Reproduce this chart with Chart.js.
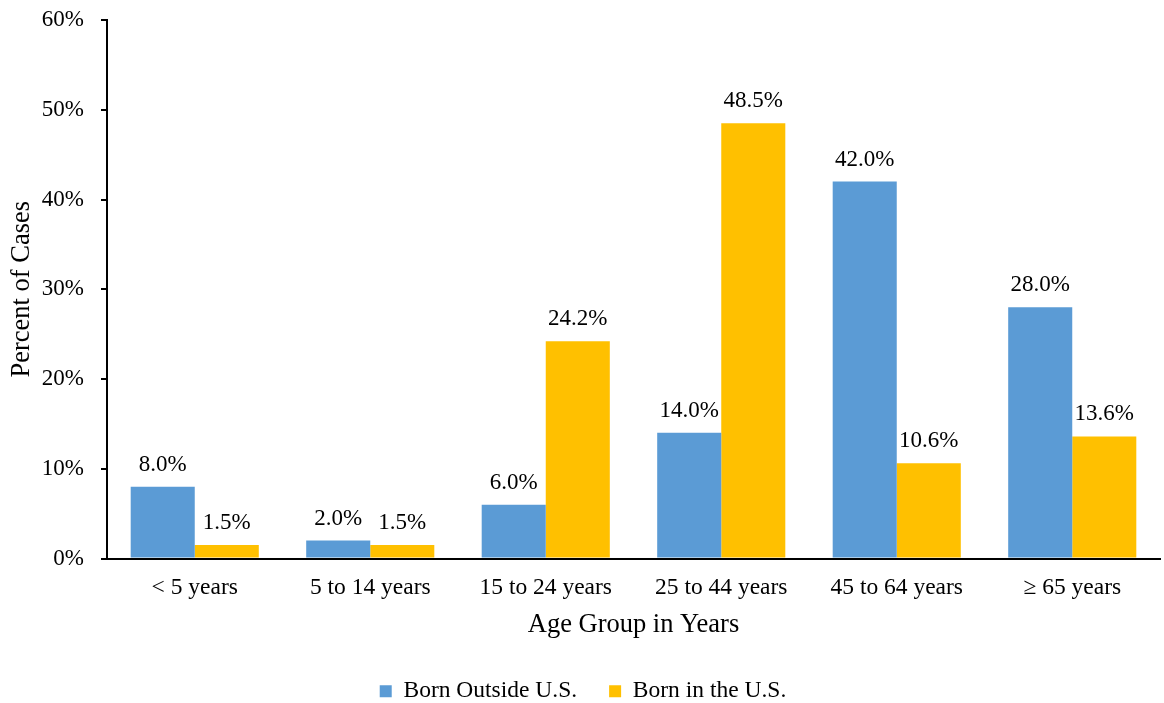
<!DOCTYPE html>
<html lang="en">
<head>
    <meta charset="UTF-8">
    <title>Percent of Cases by Age Group</title>
    <script src="https://cdn.jsdelivr.net/npm/chart.js"></script>
    <style>
        body { margin: 0; padding: 0; background: #fff; }
        canvas { display: block; }
    </style>
</head>
<body>
    <canvas id="ageChart" width="1164" height="703"></canvas>
    <script>
        const ageGroups = ['< 5 years', '5 to 14 years', '15 to 24 years', '25 to 44 years', '45 to 64 years', '\u2265 65 years'];
        const bornOutside = [8.0, 2.0, 6.0, 14.0, 42.0, 28.0];
        const bornInUS = [1.5, 1.5, 24.2, 48.5, 10.6, 13.6];

        const FONT = '"Liberation Serif", "Times New Roman", serif';

        // draws the value above each bar
        const barLabels = {
            id: 'barLabels',
            afterDatasetsDraw(chart) {
                const ctx = chart.ctx;
                ctx.save();
                ctx.font = '23px ' + FONT;
                ctx.fillStyle = '#000';
                ctx.textAlign = 'center';
                ctx.textBaseline = 'alphabetic';
                chart.data.datasets.forEach((ds, i) => {
                    chart.getDatasetMeta(i).data.forEach((bar, j) => {
                        ctx.fillText(ds.data[j].toFixed(1) + '%', bar.x, bar.y - 16);
                    });
                });
                ctx.restore();
            }
        };

        new Chart(document.getElementById('ageChart').getContext('2d'), {
            type: 'bar',
            data: {
                labels: ageGroups,
                datasets: [
                    { label: 'Born Outside U.S.', data: bornOutside, backgroundColor: '#5B9BD5' },
                    { label: 'Born in the U.S.', data: bornInUS, backgroundColor: '#FFC000' }
                ]
            },
            options: {
                responsive: false,
                animation: false,
                maintainAspectRatio: false,
                layout: { padding: { left: 6, right: 4, top: 20, bottom: -10 } },
                datasets: { bar: { categoryPercentage: 0.73, barPercentage: 1.0 } },
                plugins: {
                    tooltip: { enabled: false },
                    legend: {
                        position: 'bottom',
                        labels: {
                            font: { family: FONT, size: 23.5 },
                            color: '#000',
                            boxWidth: 12,
                            boxHeight: 12,
                            padding: 32,
                            useBorderRadius: false
                        }
                    }
                },
                scales: {
                    x: {
                        grid: { display: false },
                        border: { display: true, color: '#000', width: 2 },
                        ticks: { font: { family: FONT, size: 23.5 }, color: '#000', padding: 7 },
                        title: {
                            display: true,
                            text: 'Age Group in Years',
                            font: { family: FONT, size: 26.5 },
                            color: '#000',
                            padding: { top: 0, bottom: 7 }
                        }
                    },
                    y: {
                        min: 0,
                        max: 60,
                        // fixed width for the axis box, no extra padding above the top label
                        afterFit(scale) {
                            scale.width = 101;
                            scale.paddingTop = 0;
                            scale.paddingBottom = 0;
                        },
                        ticks: {
                            stepSize: 10,
                            font: { family: FONT, size: 23 },
                            color: '#000',
                            padding: 17,
                            callback: v => v + '%'
                        },
                        grid: { drawOnChartArea: false, drawTicks: true, tickLength: 6, color: '#000', lineWidth: 2 },
                        border: { display: true, color: '#000', width: 2 },
                        title: {
                            display: true,
                            text: 'Percent of Cases',
                            font: { family: FONT, size: 26.5 },
                            color: '#000',
                            padding: { top: 0, bottom: 0 }
                        }
                    }
                }
            },
            plugins: [barLabels]
        });
    </script>
</body>
</html>
